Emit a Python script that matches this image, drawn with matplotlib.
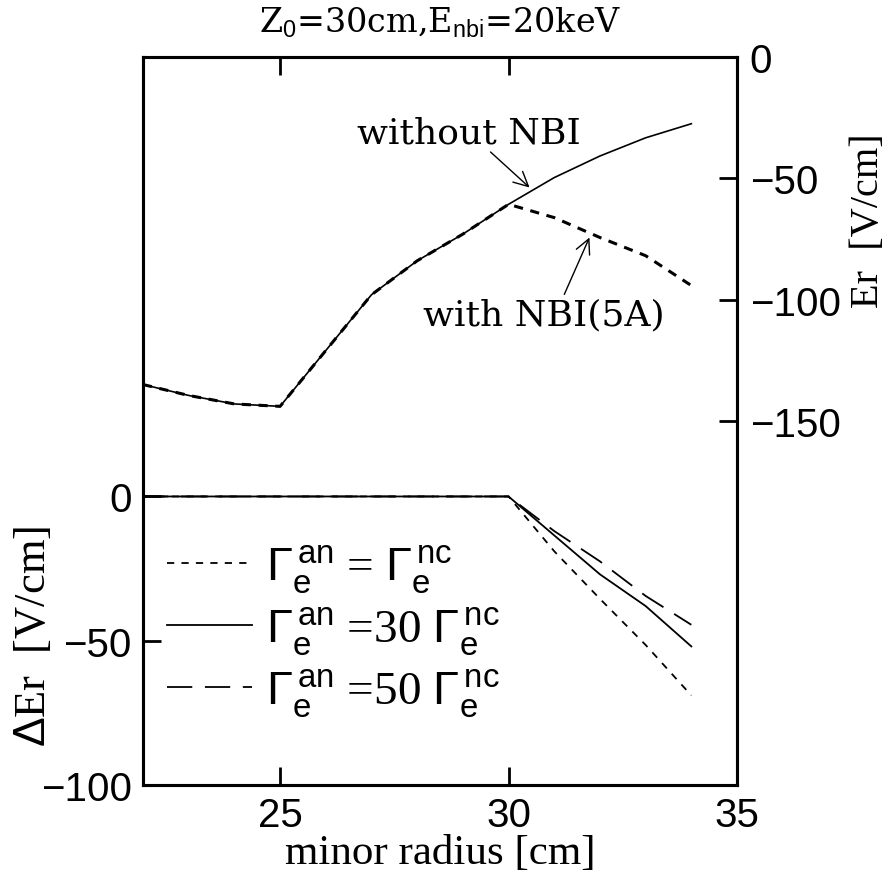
import matplotlib
matplotlib.use("Agg")
import matplotlib.pyplot as plt
from matplotlib import font_manager

# minor radius grid [cm]
radius = [22, 23, 24, 25, 26, 27, 28, 29, 30, 31, 32, 33, 34]

# Er [V/cm], upper curves (right axis)
er_without_nbi = [-135, -139.5, -143, -144, -121, -98, -84, -73, -60.7, -49.7, -40.8, -33.3, -27.5]
er_with_nbi = [-135, -139.5, -143, -144, -121, -98, -84, -73, -60.7, -66.2, -74.4, -81.9, -94.2]

# delta Er [V/cm], lower curves (left axis)
der_x1 = [0, 0, 0, 0, 0, 0, 0, 0, 0, -19, -35.5, -51.5, -69]
der_x30 = [0, 0, 0, 0, 0, 0, 0, 0, 0, -13.5, -27, -38, -52]
der_x50 = [0, 0, 0, 0, 0, 0, 0, 0, 0, -12, -22.5, -34.5, -44.5]

legend_labels = [r"$\Gamma_{\rm e}^{\,\rm an}$ = $\Gamma_{\rm e}^{\,\rm nc}$",
                 r"$\Gamma_{\rm e}^{\,\rm an}$ =30 $\Gamma_{\rm e}^{\,\rm nc}$",
                 r"$\Gamma_{\rm e}^{\,\rm an}$ =50 $\Gamma_{\rm e}^{\,\rm nc}$"]

installed = {f.name for f in font_manager.fontManager.ttflist}
sans = "Liberation Sans Narrow" if "Liberation Sans Narrow" in installed else "Liberation Sans"
plt.rcParams["font.family"] = [sans, "DejaVu Sans"]
plt.rcParams["mathtext.fontset"] = "custom"
plt.rcParams["mathtext.rm"] = "Liberation Sans"
plt.rcParams["mathtext.it"] = "Liberation Sans"

fig = plt.figure(figsize=(8.88, 8.79), dpi=100)
ax = fig.add_axes([0.161, 0.106, 0.669, 0.828])
ax2 = ax.twinx()

for a in (ax, ax2):
    for s in a.spines.values():
        s.set_linewidth(2.2)

# lower panel: delta Er
ax.plot(radius, der_x1, color="black", lw=1.3, dashes=(4, 4))
ax.plot(radius, der_x30, color="black", lw=1.3)
ax.plot(radius, der_x50, color="black", lw=1.3, dashes=(14, 7))
ax.set_xlim(22, 35)
ax.set_ylim(-100, 152.4)
ax.set_yticks([0, -50, -100])
ax.set_xticks([25, 30, 35])
ax.tick_params(axis="both", direction="in", length=13, width=2, labelsize=29, top=True, pad=8)
ax.set_xlabel("minor radius [cm]", family="Liberation Serif", fontsize=31, labelpad=0)
ax.set_ylabel(r"$\Delta$Er  [V/cm]", family="Liberation Serif", fontsize=32, labelpad=2)
ax.yaxis.set_label_coords(-0.15, 0.205)

leg = ax.legend(legend_labels, loc="upper left", bbox_to_anchor=(0.04, 0.333),
                frameon=False, prop={"family": "Liberation Serif", "size": 34},
                handlelength=1.8, labelspacing=0.2,
                handletextpad=0.3, borderpad=0, borderaxespad=0)
for h in leg.legend_handles:
    h.set_linewidth(1.3)

# upper panel: Er
ax2.plot(radius, er_without_nbi, color="black", lw=1.2)
ax2.plot(radius, er_with_nbi, color="black", lw=2.2, dashes=(3, 2.5))
ax2.set_ylim(-300, 0)
ax2.set_yticks([0, -50, -100, -150])
ax2.tick_params(axis="y", direction="in", length=13, width=2, labelsize=29, pad=9)
ax2.set_ylabel("Er  [V/cm]", family="Liberation Serif", fontsize=29, labelpad=4)
ax2.yaxis.set_label_coords(1.19, 0.777)

ax2.annotate("without NBI", xy=(30.46, -53.8), xytext=(29.13, -38),
             family="DejaVu Serif", fontsize=26, ha="center", va="bottom",
             arrowprops=dict(arrowstyle="->", color="black", lw=1.0, shrinkA=0, shrinkB=0))
ax2.annotate("with NBI(5A)", xy=(31.77, -74.4), xytext=(30.77, -99),
             family="DejaVu Serif", fontsize=26, ha="center", va="top",
             arrowprops=dict(arrowstyle="->", color="black", lw=1.0, shrinkA=0, shrinkB=0,
                             relpos=(0.58, 1.0)))

ax.set_title(r"Z$_0$=30cm,E$_{\rm nbi}$=20keV", family="DejaVu Serif", fontsize=24, pad=18)

fig.savefig("out.png", dpi=100)
